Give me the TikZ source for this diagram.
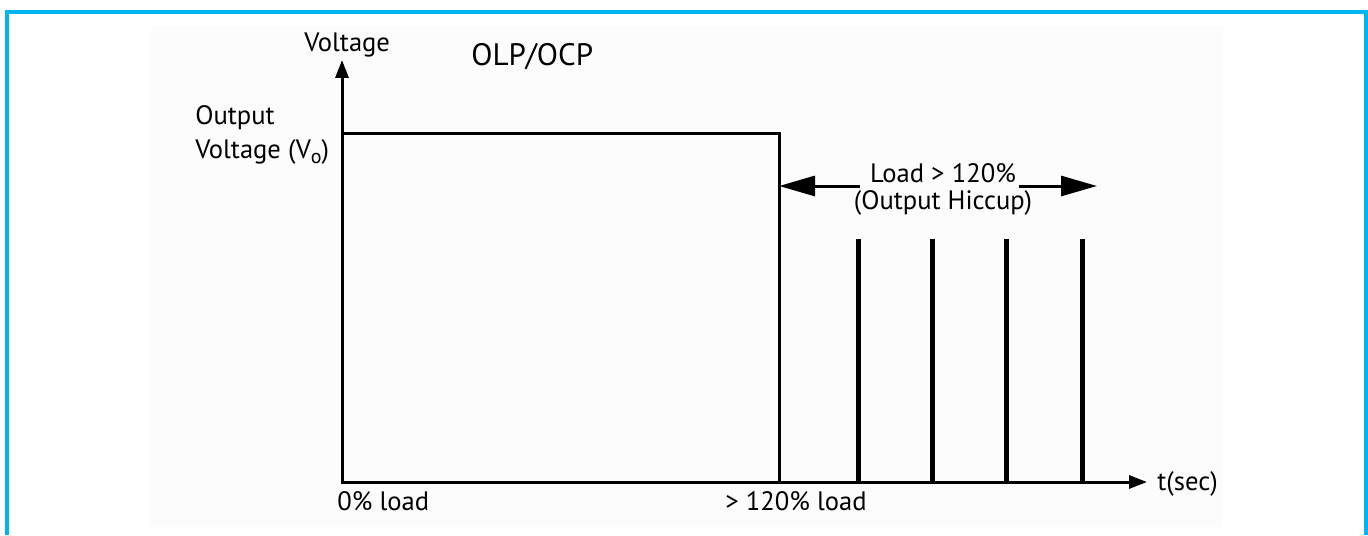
\documentclass[tikz,border=0pt]{standalone}
\usepackage{fontspec}
\setmainfont{PT Sans}
\usetikzlibrary{arrows.meta}
\definecolor{frame}{HTML}{00B6F1}
\definecolor{panel}{HTML}{FCFCFC}
\newcommand{\subo}{\raisebox{-0.45ex}{\fontsize{10}{10}\selectfont o}}
\begin{document}
\begin{tikzpicture}[x=0.5pt,y=-0.5pt,
  lbl/.style={inner sep=0pt, font=\fontsize{13.3}{15}\selectfont},
  ttl/.style={inner sep=0pt, font=\fontsize{15.5}{18}\selectfont},
  axis/.style={line width=1.5pt, -{Triangle[length=9pt,width=6.5pt]}},
  trace/.style={line width=1.5pt},
  hic/.style={line width=2.5pt},
  span/.style={line width=1.5pt, -{Triangle[length=18pt,width=10pt]}}]
\useasboundingbox (0,0) rectangle (1368,535);
\fill[white] (0,0) rectangle (1368,535);
\fill[panel] (151,26) rectangle (1223,527);
\draw[frame, line width=2pt] (7,535) -- (7,12) -- (1366,12) -- (1366,535);
% coordinates
\coordinate (O) at (342,482);
\coordinate (Ytip) at (342,60);
\coordinate (Xtip) at (1147,482);
\coordinate (P1) at (342,133);
\coordinate (P2) at (779,133);
\coordinate (P3) at (779,482);
% pulse
\draw[trace, line join=miter] (P1) -- (P2) -- (P3);
% hiccups
\foreach \x/\n in {858/a,932/b,1006/c,1082/d}{
  \coordinate (h\n t) at (\x,239);
  \coordinate (h\n b) at (\x,482);
  \draw[hic] (h\n t) -- (h\n b);
}
% axes
\draw[axis] (O) -- (Ytip);
\draw[axis] ([xshift=-0.75pt]O) -- (Xtip);
% labels
\node[lbl, anchor=base west] (yl) at (304,52) {Voltage};
\node[ttl, anchor=base west] (title) at (471,66) {OLP/OCP};
\node[lbl, anchor=base west] (o1) at (195,125) {Output};
\node[lbl, anchor=base west] (o2) at (195,158) {Voltage (V\subo)};
\node[lbl, anchor=base] (ld) at (943,182) {Load > 120\%};
\node[lbl, anchor=base] (hc) at (943,209) {(Output Hiccup)};
\node[lbl, anchor=base west] (z) at (337,510) {0\% load};
\node[lbl, anchor=base west] (ol) at (725,510) {> 120\% load};
\node[lbl, anchor=base west] (ts) at (1157,490) {t(sec)};
% span arrows
\coordinate (L) at (779,186);
\coordinate (R) at (1097,186);
\draw[span] (ld.west |- L) ++(-10,0) -- (L);
\draw[span] (ld.east |- R) ++(3,0) -- (R);
\end{tikzpicture}
\end{document}
